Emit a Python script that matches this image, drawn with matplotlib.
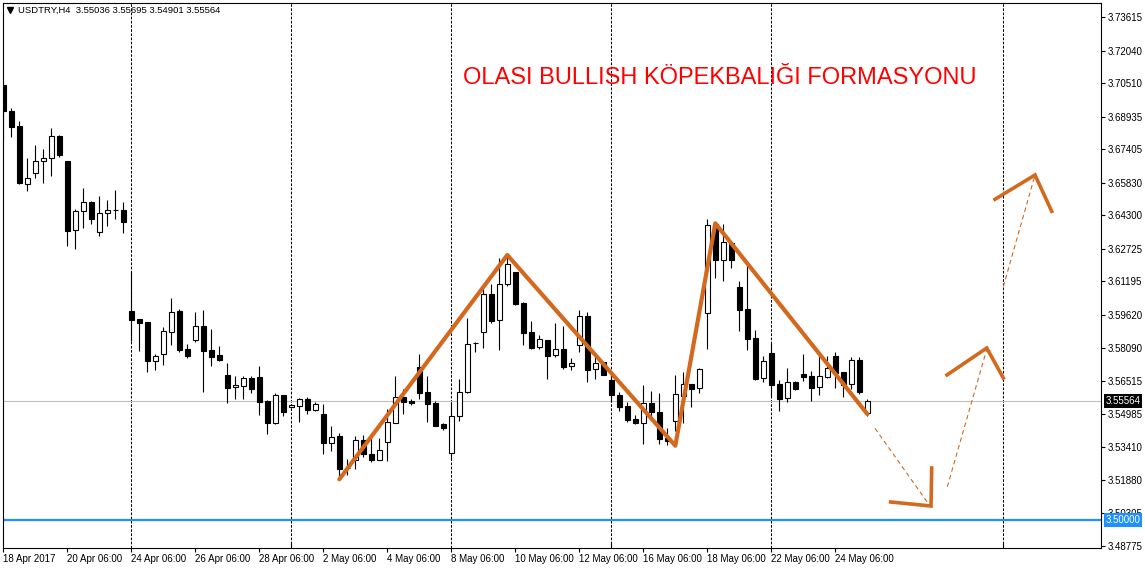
import matplotlib
matplotlib.use("Agg")
import matplotlib.pyplot as plt

# OHLC de las velas H4
opens = [3.70422, 3.69215, 3.68496, 3.65759, 3.66304, 3.66867, 3.66980, 3.68027, 3.66853, 3.63599,
         3.64491, 3.64928, 3.63505, 3.64397, 3.64530, 3.64538, 3.59809, 3.59434, 3.59293, 3.57476,
         3.57776, 3.58837, 3.59795, 3.58011, 3.58462, 3.59091, 3.57978, 3.57729, 3.56790, 3.56226,
         3.56302, 3.56663, 3.56710, 3.55583, 3.54564, 3.55851, 3.55287, 3.55363, 3.55677, 3.55175,
         3.54973, 3.53597, 3.53926, 3.52451, 3.52799, 3.53737, 3.53080, 3.52826, 3.53644, 3.54564,
         3.55771, 3.55569, 3.57180, 3.56006, 3.55489, 3.54517, 3.53127, 3.54864, 3.55992, 3.58300,
         3.58809, 3.60593, 3.59373, 3.61063, 3.61641, 3.60185, 3.58823, 3.58104, 3.58448, 3.57729,
         3.58025, 3.57212, 3.58236, 3.59560, 3.57072, 3.57400, 3.56569, 3.55879, 3.55348, 3.54724,
         3.54564, 3.55475, 3.55067, 3.53846, 3.54658, 3.55832, 3.56382, 3.56180, 3.59701, 3.63895,
         3.62218, 3.63002, 3.60922, 3.59903, 3.58542, 3.56649, 3.57823, 3.56382, 3.55710, 3.56475,
         3.56851, 3.56743, 3.56226, 3.56696, 3.57682, 3.56931, 3.56367, 3.57494, 3.55036]
highs = [3.70577, 3.69328, 3.68731, 3.67008, 3.67604, 3.67416, 3.68417, 3.68074, 3.66853, 3.64585,
         3.65571, 3.64960, 3.65195, 3.65022, 3.65491, 3.64928, 3.61627, 3.59434, 3.59293, 3.57790,
         3.59044, 3.60406, 3.59889, 3.58246, 3.59762, 3.59856, 3.58964, 3.58166, 3.57353, 3.56757,
         3.56757, 3.56757, 3.57227, 3.55630, 3.55945, 3.55851, 3.55442, 3.55738, 3.55785, 3.55522,
         3.55428, 3.54409, 3.54081, 3.52846, 3.53940, 3.53987, 3.54048, 3.53832, 3.55193, 3.56757,
         3.56133, 3.55663, 3.57776, 3.56757, 3.55569, 3.54550, 3.55522, 3.56602, 3.59466, 3.58340,
         3.61030, 3.61063, 3.62284, 3.62392, 3.61641, 3.60218, 3.59340, 3.58682, 3.58448, 3.59246,
         3.59105, 3.57588, 3.59842, 3.59762, 3.57743, 3.57428, 3.56884, 3.56006, 3.55550, 3.54926,
         3.56335, 3.56038, 3.55973, 3.54301, 3.56804, 3.56931, 3.56382, 3.57119, 3.64115, 3.63956,
         3.63881, 3.63110, 3.61218, 3.62030, 3.58917, 3.57710, 3.58292, 3.56555, 3.57119, 3.56522,
         3.57790, 3.57006, 3.57710, 3.57696, 3.57870, 3.56931, 3.57635, 3.57635, 3.55695]
lows = [3.67839, 3.67994, 3.65773, 3.65458, 3.66069, 3.65834, 3.66163, 3.67055, 3.62862, 3.62735,
        3.63707, 3.63895, 3.63331, 3.63815, 3.64129, 3.63486, 3.58415, 3.57931, 3.56959, 3.57039,
        3.57274, 3.58213, 3.57898, 3.57616, 3.58368, 3.56020, 3.57227, 3.57476, 3.55503, 3.55691,
        3.55691, 3.55945, 3.54940, 3.54048, 3.54503, 3.54893, 3.55240, 3.54611, 3.54987, 3.55128,
        3.53080, 3.53249, 3.51935, 3.52094, 3.52376, 3.52968, 3.52719, 3.52799, 3.52780, 3.54536,
        3.54987, 3.55395, 3.55691, 3.54611, 3.54423, 3.54236, 3.52799, 3.54658, 3.55945, 3.57898,
        3.58086, 3.59232, 3.57992, 3.60997, 3.60091, 3.58227, 3.58011, 3.58025, 3.56630, 3.57635,
        3.57100, 3.57039, 3.57884, 3.56490, 3.56630, 3.56804, 3.55550, 3.55128, 3.54611, 3.54503,
        3.53578, 3.54691, 3.53578, 3.53517, 3.54175, 3.54564, 3.55316, 3.55973, 3.58039, 3.61373,
        3.61218, 3.61829, 3.58884, 3.57978, 3.56555, 3.56475, 3.55832, 3.55128, 3.55522, 3.56100,
        3.56522, 3.55597, 3.55851, 3.56649, 3.56208, 3.55785, 3.56161, 3.55926, 3.54901]
closes = [3.69215, 3.68464, 3.65806, 3.66040, 3.66839, 3.66980, 3.68027, 3.67135, 3.63580, 3.64505,
          3.64928, 3.64143, 3.64411, 3.64538, 3.64545, 3.64003, 3.59387, 3.59260, 3.57476, 3.57682,
          3.58870, 3.59748, 3.57978, 3.57696, 3.59091, 3.57945, 3.57663, 3.57508, 3.56208, 3.56320,
          3.56649, 3.56161, 3.55550, 3.54564, 3.55851, 3.55067, 3.55395, 3.55677, 3.55175, 3.55442,
          3.53597, 3.53907, 3.52404, 3.52460, 3.53737, 3.53080, 3.52826, 3.53268, 3.54583, 3.55757,
          3.55550, 3.55475, 3.55973, 3.55456, 3.54423, 3.54330, 3.54864, 3.55992, 3.58274, 3.58310,
          3.60593, 3.59354, 3.61063, 3.62002, 3.60152, 3.58790, 3.58086, 3.58495, 3.57710, 3.58025,
          3.57194, 3.57353, 3.59560, 3.57053, 3.57391, 3.56818, 3.55879, 3.55316, 3.54705, 3.54564,
          3.55475, 3.55067, 3.53799, 3.53691, 3.55898, 3.56367, 3.56161, 3.57072, 3.63833, 3.62204,
          3.63035, 3.62204, 3.59870, 3.58509, 3.56616, 3.57447, 3.56348, 3.55691, 3.56461, 3.56161,
          3.56724, 3.56208, 3.56743, 3.57119, 3.56912, 3.56335, 3.57494, 3.56006, 3.55564]

etiquetas_fecha = ["18 Apr 2017", "20 Apr 06:00", "24 Apr 06:00", "26 Apr 06:00", "28 Apr 06:00",
                   "2 May 06:00", "4 May 06:00", "8 May 06:00", "10 May 06:00", "12 May 06:00",
                   "16 May 06:00", "18 May 06:00", "22 May 06:00", "24 May 06:00"]
pos_fecha = [0, 8, 16, 24, 32, 40, 48, 56, 64, 72, 80, 88, 96, 104]
grilla_x = [16, 36, 56, 76, 96, 125]

precios_eje = [3.73615, 3.72040, 3.70510, 3.68935, 3.67405, 3.65830, 3.64300, 3.62725, 3.61195,
               3.59620, 3.58090, 3.56515, 3.54985, 3.53410, 3.51880, 3.50305, 3.48775]

# patron (zigzag) y proyeccion
zig_x = [42, 63, 84, 89, 108]
zig_y = [3.51906, 3.62439, 3.53484, 3.63927, 3.54973]
proy = [([108.96, 115.75], [3.54301, 3.50700]),
        ([118.0, 122.93], [3.51559, 3.58011]),
        ([125.0, 128.96], [3.60951, 3.66196])]
puntas = [([110.92, 115.96, 116.05], [3.50841, 3.50653, 3.52437]),
          ([117.96, 122.93, 125.0], [3.56806, 3.58072, 3.56663]),
          ([123.96, 128.96, 131.05], [3.65055, 3.66196, 3.64491])]

bid = 3.55564
soporte = 3.50000

naranja = "#D2691E"
plt.rcParams['font.family'] = ['Liberation Sans', 'DejaVu Sans']

fig = plt.figure(figsize=(11.45, 5.69), dpi=100)
ax = fig.add_axes([3 / 1145, 21 / 569, 1098 / 1145, 545 / 569])
ax.set_xlim(-0.0375, 137.21)
ax.set_ylim(3.48681, 3.74272)

# grilla vertical punteada
for gx in grilla_x:
    ax.axvline(gx, color="black", lw=0.75, dashes=(2.5, 1.5), zorder=1)

ax.axhline(bid, color="#C0C0C0", lw=0.8, zorder=1)
ax.axhline(soporte, color="#1E90FF", lw=1.6, zorder=1)

# velas
idx = list(range(len(opens)))
ax.vlines(idx, lows, highs, color="black", lw=0.8, zorder=2)
alto = [max(abs(c - o), 0.00002) for o, c in zip(opens, closes)]
base = [min(o, c) for o, c in zip(opens, closes)]
col = ["white" if c >= o else "black" for o, c in zip(opens, closes)]
ax.bar(idx, alto, bottom=base, width=0.6, color=col, edgecolor="black", linewidth=0.8, zorder=3)

# patron
ax.plot(zig_x, zig_y, color=naranja, lw=3, solid_joinstyle="round", solid_capstyle="round", zorder=4)
for px, py in proy:
    ax.plot(px, py, color=naranja, lw=0.8, dashes=(4, 3), zorder=4)
for px, py in puntas:
    ax.plot(px, py, color=naranja, lw=2.6, solid_joinstyle="miter", zorder=4)

ax.text(0.419, 0.851, "OLASI BULLISH KÖPEKBALIĞI FORMASYONU", transform=ax.transAxes,
        color="#FF0000", fontsize=17, va="baseline", ha="left")

ax.text(0.0137, 0.987, "USDTRY,H4  3.55036 3.55695 3.54901 3.55564", transform=ax.transAxes,
        fontsize=6.8, va="center", ha="left", color="black")
ax.plot([0.0065], [0.987], marker="v", color="black", markersize=4.5, transform=ax.transAxes,
        clip_on=False)

# ejes
ax.yaxis.tick_right()
ax.set_yticks(precios_eje)
ax.set_yticklabels(["%.5f" % p for p in precios_eje])
ax.set_xticks(pos_fecha)
ax.set_xticklabels(etiquetas_fecha, ha="left")
ax.set_xticks(grilla_x, minor=True)
ax.tick_params(axis="y", direction="out", length=3, width=0.8, pad=1.5, labelsize=7)
ax.tick_params(axis="x", which="major", direction="out", length=3, width=0.8, pad=1, labelsize=7)
ax.tick_params(axis="x", which="minor", direction="in", length=4, width=0.8)
for s in ax.spines.values():
    s.set_linewidth(0.8)

for valor, fondo in [(bid, "black"), (soporte, "#1E90FF")]:
    ax.annotate("%.5f" % valor, xy=(1.0, valor), xycoords=("axes fraction", "data"),
                xytext=(3.2, 0), textcoords="offset points", va="center", ha="left",
                fontsize=7, color="white", annotation_clip=False, zorder=10,
                bbox=dict(boxstyle="square,pad=0.2", fc=fondo, ec="none"))

fig.savefig("out.png", dpi=100)
